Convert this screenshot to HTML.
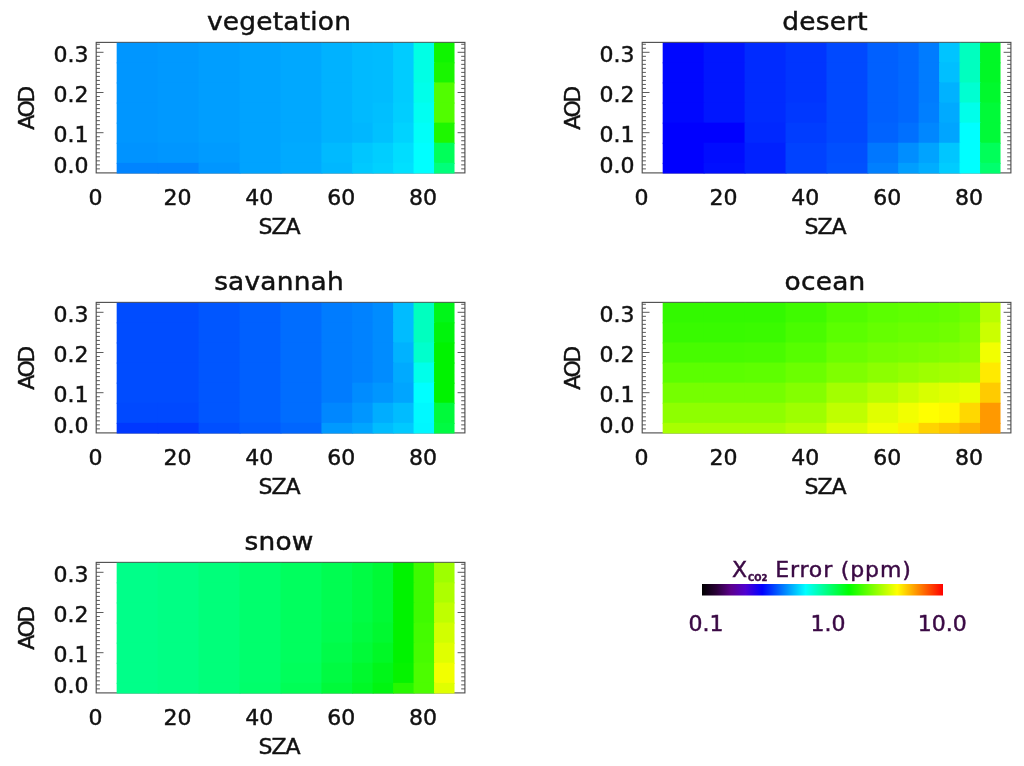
<!DOCTYPE html>
<html><head><meta charset="utf-8"><title>XCO2 error</title>
<style>
html,body{margin:0;padding:0;background:#fff;}
body{width:1024px;height:766px;overflow:hidden;}
svg{display:block;}

text{font-family:"DejaVu Sans","Liberation Sans",sans-serif;fill:#111;stroke:#111;stroke-width:0.45px;}
.title{font-size:24px;letter-spacing:0.2px;}
.lab{font-size:22px;}
.axl{font-size:22px;letter-spacing:-1px;}
.aod{letter-spacing:-2.4px;}
.frame{fill:#fff;stroke:#505050;stroke-width:1.15;}
.tick{stroke:#4a4a4a;stroke-width:0.9;fill:none;}
.cb text{fill:#3b0a45;stroke:#3b0a45;}

</style></head><body>
<svg width="1024" height="766" viewBox="0 0 1024 766">
<rect width="1024" height="766" fill="#fff"/>
<defs><linearGradient id="cbg" x1="0" x2="1" y1="0" y2="0">
<stop offset="0" stop-color="#000"/>
<stop offset="0.06" stop-color="#2a0038"/>
<stop offset="0.12" stop-color="#5c008c"/>
<stop offset="0.18" stop-color="#5000d0"/>
<stop offset="0.25" stop-color="#0000ff"/>
<stop offset="0.43" stop-color="#00ffff"/>
<stop offset="0.61" stop-color="#00ff00"/>
<stop offset="0.81" stop-color="#ffff00"/>
<stop offset="1" stop-color="#ff0000"/>
</linearGradient></defs>
<g>
<g class="panel">
<rect class="frame" x="96.20" y="42.40" width="368.70" height="130.50"/>
<path class="tick" d="M96.20 168.88h3.70M464.90 168.88h-3.70M96.20 164.86h3.70M464.90 164.86h-3.70M96.20 160.84h3.70M464.90 160.84h-3.70M96.20 156.82h3.70M464.90 156.82h-3.70M96.20 152.80h3.70M464.90 152.80h-3.70M96.20 148.78h3.70M464.90 148.78h-3.70M96.20 144.76h3.70M464.90 144.76h-3.70M96.20 140.74h3.70M464.90 140.74h-3.70M96.20 136.72h3.70M464.90 136.72h-3.70M96.20 132.70h7.30M464.90 132.70h-7.30M96.20 128.68h3.70M464.90 128.68h-3.70M96.20 124.66h3.70M464.90 124.66h-3.70M96.20 120.64h3.70M464.90 120.64h-3.70M96.20 116.62h3.70M464.90 116.62h-3.70M96.20 112.60h3.70M464.90 112.60h-3.70M96.20 108.58h3.70M464.90 108.58h-3.70M96.20 104.56h3.70M464.90 104.56h-3.70M96.20 100.54h3.70M464.90 100.54h-3.70M96.20 96.52h3.70M464.90 96.52h-3.70M96.20 92.50h7.30M464.90 92.50h-7.30M96.20 88.48h3.70M464.90 88.48h-3.70M96.20 84.46h3.70M464.90 84.46h-3.70M96.20 80.44h3.70M464.90 80.44h-3.70M96.20 76.42h3.70M464.90 76.42h-3.70M96.20 72.40h3.70M464.90 72.40h-3.70M96.20 68.38h3.70M464.90 68.38h-3.70M96.20 64.36h3.70M464.90 64.36h-3.70M96.20 60.34h3.70M464.90 60.34h-3.70M96.20 56.32h3.70M464.90 56.32h-3.70M96.20 52.30h7.30M464.90 52.30h-7.30M96.20 48.28h3.70M464.90 48.28h-3.70M96.20 44.26h3.70M464.90 44.26h-3.70"/>
<g class="heat">
<rect x="116.67" y="42.80" width="41.95" height="20.55" fill="#0096ff"/><rect x="157.62" y="42.80" width="41.95" height="20.55" fill="#0099ff"/><rect x="198.57" y="42.80" width="41.95" height="20.55" fill="#009eff"/><rect x="239.52" y="42.80" width="41.95" height="20.55" fill="#00a3ff"/><rect x="280.47" y="42.80" width="41.95" height="20.55" fill="#00a8ff"/><rect x="321.43" y="42.80" width="31.71" height="20.55" fill="#00b2ff"/><rect x="352.14" y="42.80" width="21.47" height="20.55" fill="#00baff"/><rect x="372.61" y="42.80" width="21.48" height="20.55" fill="#00bcff"/><rect x="393.09" y="42.80" width="21.47" height="20.55" fill="#00ccff"/><rect x="413.56" y="42.80" width="21.48" height="20.55" fill="#00ffe5"/><rect x="434.04" y="42.80" width="20.48" height="20.55" fill="#0ff500"/>
<rect x="116.67" y="62.35" width="41.95" height="21.10" fill="#0096ff"/><rect x="157.62" y="62.35" width="41.95" height="21.10" fill="#0099ff"/><rect x="198.57" y="62.35" width="41.95" height="21.10" fill="#009eff"/><rect x="239.52" y="62.35" width="41.95" height="21.10" fill="#00a3ff"/><rect x="280.47" y="62.35" width="41.95" height="21.10" fill="#00a8ff"/><rect x="321.43" y="62.35" width="31.71" height="21.10" fill="#00b2ff"/><rect x="352.14" y="62.35" width="21.47" height="21.10" fill="#00baff"/><rect x="372.61" y="62.35" width="21.48" height="21.10" fill="#00bcff"/><rect x="393.09" y="62.35" width="21.47" height="21.10" fill="#00ccff"/><rect x="413.56" y="62.35" width="21.48" height="21.10" fill="#00ffe5"/><rect x="434.04" y="62.35" width="20.48" height="21.10" fill="#19f600"/>
<rect x="116.67" y="82.45" width="41.95" height="21.10" fill="#0096ff"/><rect x="157.62" y="82.45" width="41.95" height="21.10" fill="#0099ff"/><rect x="198.57" y="82.45" width="41.95" height="21.10" fill="#009eff"/><rect x="239.52" y="82.45" width="41.95" height="21.10" fill="#00a3ff"/><rect x="280.47" y="82.45" width="41.95" height="21.10" fill="#00a8ff"/><rect x="321.43" y="82.45" width="31.71" height="21.10" fill="#00b2ff"/><rect x="352.14" y="82.45" width="21.47" height="21.10" fill="#00baff"/><rect x="372.61" y="82.45" width="21.48" height="21.10" fill="#00bcff"/><rect x="393.09" y="82.45" width="21.47" height="21.10" fill="#00ccff"/><rect x="413.56" y="82.45" width="21.48" height="21.10" fill="#00ffea"/><rect x="434.04" y="82.45" width="20.48" height="21.10" fill="#51fd00"/>
<rect x="116.67" y="102.55" width="41.95" height="21.10" fill="#0096ff"/><rect x="157.62" y="102.55" width="41.95" height="21.10" fill="#0099ff"/><rect x="198.57" y="102.55" width="41.95" height="21.10" fill="#009eff"/><rect x="239.52" y="102.55" width="41.95" height="21.10" fill="#00a3ff"/><rect x="280.47" y="102.55" width="41.95" height="21.10" fill="#00a8ff"/><rect x="321.43" y="102.55" width="31.71" height="21.10" fill="#00b2ff"/><rect x="352.14" y="102.55" width="21.47" height="21.10" fill="#00baff"/><rect x="372.61" y="102.55" width="21.48" height="21.10" fill="#00bfff"/><rect x="393.09" y="102.55" width="21.47" height="21.10" fill="#00ceff"/><rect x="413.56" y="102.55" width="21.48" height="21.10" fill="#00fff2"/><rect x="434.04" y="102.55" width="20.48" height="21.10" fill="#51fd00"/>
<rect x="116.67" y="122.65" width="41.95" height="21.10" fill="#0096ff"/><rect x="157.62" y="122.65" width="41.95" height="21.10" fill="#0099ff"/><rect x="198.57" y="122.65" width="41.95" height="21.10" fill="#009eff"/><rect x="239.52" y="122.65" width="41.95" height="21.10" fill="#00a3ff"/><rect x="280.47" y="122.65" width="41.95" height="21.10" fill="#00a8ff"/><rect x="321.43" y="122.65" width="31.71" height="21.10" fill="#00b2ff"/><rect x="352.14" y="122.65" width="21.47" height="21.10" fill="#00b7ff"/><rect x="372.61" y="122.65" width="21.48" height="21.10" fill="#00c1ff"/><rect x="393.09" y="122.65" width="21.47" height="21.10" fill="#00d3ff"/><rect x="413.56" y="122.65" width="21.48" height="21.10" fill="#00fff9"/><rect x="434.04" y="122.65" width="20.48" height="21.10" fill="#1ef700"/>
<rect x="116.67" y="142.75" width="41.95" height="21.10" fill="#0093ff"/><rect x="157.62" y="142.75" width="41.95" height="21.10" fill="#0096ff"/><rect x="198.57" y="142.75" width="41.95" height="21.10" fill="#009bff"/><rect x="239.52" y="142.75" width="41.95" height="21.10" fill="#00a3ff"/><rect x="280.47" y="142.75" width="41.95" height="21.10" fill="#00aaff"/><rect x="321.43" y="142.75" width="31.71" height="21.10" fill="#00baff"/><rect x="352.14" y="142.75" width="21.47" height="21.10" fill="#00c6ff"/><rect x="372.61" y="142.75" width="21.48" height="21.10" fill="#00ceff"/><rect x="393.09" y="142.75" width="21.47" height="21.10" fill="#00ddff"/><rect x="413.56" y="142.75" width="21.48" height="21.10" fill="#00ffff"/><rect x="434.04" y="142.75" width="20.48" height="21.10" fill="#00ff59"/>
<rect x="116.67" y="162.85" width="41.95" height="10.65" fill="#0084ff"/><rect x="157.62" y="162.85" width="41.95" height="10.65" fill="#0084ff"/><rect x="198.57" y="162.85" width="41.95" height="10.65" fill="#0096ff"/><rect x="239.52" y="162.85" width="41.95" height="10.65" fill="#00a3ff"/><rect x="280.47" y="162.85" width="41.95" height="10.65" fill="#00aaff"/><rect x="321.43" y="162.85" width="31.71" height="10.65" fill="#00b7ff"/><rect x="352.14" y="162.85" width="21.47" height="10.65" fill="#00c9ff"/><rect x="372.61" y="162.85" width="21.48" height="10.65" fill="#00d1ff"/><rect x="393.09" y="162.85" width="21.47" height="10.65" fill="#00e0ff"/><rect x="413.56" y="162.85" width="21.48" height="10.65" fill="#00ffff"/><rect x="434.04" y="162.85" width="20.48" height="10.65" fill="#00ff7a"/>
</g>
<text class="title" transform="translate(279.05 29.70) scale(1.100 1)" text-anchor="middle">vegetation</text>
<text class="lab" x="88.60" y="61.90" text-anchor="end">0.3</text>
<text class="lab" x="88.60" y="102.10" text-anchor="end">0.2</text>
<text class="lab" x="88.60" y="142.30" text-anchor="end">0.1</text>
<text class="lab" x="88.60" y="172.90" text-anchor="end">0.0</text>
<text class="lab" x="95.50" y="205.40" text-anchor="middle">0</text>
<text class="lab" x="177.40" y="205.40" text-anchor="middle">20</text>
<text class="lab" x="259.30" y="205.40" text-anchor="middle">40</text>
<text class="lab" x="341.20" y="205.40" text-anchor="middle">60</text>
<text class="lab" x="423.10" y="205.40" text-anchor="middle">80</text>
<text class="axl" x="279.05" y="233.90" text-anchor="middle">SZA</text>
<text class="axl aod" transform="translate(33.90 108.95) rotate(-90)" text-anchor="middle">AOD</text>
</g>
<g class="panel">
<rect class="frame" x="642.20" y="42.40" width="368.70" height="130.50"/>
<path class="tick" d="M642.20 168.88h3.70M1010.90 168.88h-3.70M642.20 164.86h3.70M1010.90 164.86h-3.70M642.20 160.84h3.70M1010.90 160.84h-3.70M642.20 156.82h3.70M1010.90 156.82h-3.70M642.20 152.80h3.70M1010.90 152.80h-3.70M642.20 148.78h3.70M1010.90 148.78h-3.70M642.20 144.76h3.70M1010.90 144.76h-3.70M642.20 140.74h3.70M1010.90 140.74h-3.70M642.20 136.72h3.70M1010.90 136.72h-3.70M642.20 132.70h7.30M1010.90 132.70h-7.30M642.20 128.68h3.70M1010.90 128.68h-3.70M642.20 124.66h3.70M1010.90 124.66h-3.70M642.20 120.64h3.70M1010.90 120.64h-3.70M642.20 116.62h3.70M1010.90 116.62h-3.70M642.20 112.60h3.70M1010.90 112.60h-3.70M642.20 108.58h3.70M1010.90 108.58h-3.70M642.20 104.56h3.70M1010.90 104.56h-3.70M642.20 100.54h3.70M1010.90 100.54h-3.70M642.20 96.52h3.70M1010.90 96.52h-3.70M642.20 92.50h7.30M1010.90 92.50h-7.30M642.20 88.48h3.70M1010.90 88.48h-3.70M642.20 84.46h3.70M1010.90 84.46h-3.70M642.20 80.44h3.70M1010.90 80.44h-3.70M642.20 76.42h3.70M1010.90 76.42h-3.70M642.20 72.40h3.70M1010.90 72.40h-3.70M642.20 68.38h3.70M1010.90 68.38h-3.70M642.20 64.36h3.70M1010.90 64.36h-3.70M642.20 60.34h3.70M1010.90 60.34h-3.70M642.20 56.32h3.70M1010.90 56.32h-3.70M642.20 52.30h7.30M1010.90 52.30h-7.30M642.20 48.28h3.70M1010.90 48.28h-3.70M642.20 44.26h3.70M1010.90 44.26h-3.70"/>
<g class="heat">
<rect x="662.68" y="42.80" width="41.95" height="20.55" fill="#0007ff"/><rect x="703.62" y="42.80" width="41.95" height="20.55" fill="#0016ff"/><rect x="744.58" y="42.80" width="41.95" height="20.55" fill="#002bff"/><rect x="785.53" y="42.80" width="41.95" height="20.55" fill="#0035ff"/><rect x="826.48" y="42.80" width="41.95" height="20.55" fill="#0049ff"/><rect x="867.43" y="42.80" width="31.71" height="20.55" fill="#0060ff"/><rect x="898.14" y="42.80" width="21.47" height="20.55" fill="#0068ff"/><rect x="918.61" y="42.80" width="21.48" height="20.55" fill="#007cff"/><rect x="939.09" y="42.80" width="21.47" height="20.55" fill="#00c4ff"/><rect x="959.56" y="42.80" width="21.48" height="20.55" fill="#00ffbf"/><rect x="980.04" y="42.80" width="20.48" height="20.55" fill="#00f826"/>
<rect x="662.68" y="62.35" width="41.95" height="21.10" fill="#0007ff"/><rect x="703.62" y="62.35" width="41.95" height="21.10" fill="#0016ff"/><rect x="744.58" y="62.35" width="41.95" height="21.10" fill="#002bff"/><rect x="785.53" y="62.35" width="41.95" height="21.10" fill="#0035ff"/><rect x="826.48" y="62.35" width="41.95" height="21.10" fill="#0049ff"/><rect x="867.43" y="62.35" width="31.71" height="21.10" fill="#0060ff"/><rect x="898.14" y="62.35" width="21.47" height="21.10" fill="#0068ff"/><rect x="918.61" y="62.35" width="21.48" height="21.10" fill="#007cff"/><rect x="939.09" y="62.35" width="21.47" height="21.10" fill="#00bfff"/><rect x="959.56" y="62.35" width="21.48" height="21.10" fill="#00ffbf"/><rect x="980.04" y="62.35" width="20.48" height="21.10" fill="#00f826"/>
<rect x="662.68" y="82.45" width="41.95" height="21.10" fill="#0007ff"/><rect x="703.62" y="82.45" width="41.95" height="21.10" fill="#0016ff"/><rect x="744.58" y="82.45" width="41.95" height="21.10" fill="#002bff"/><rect x="785.53" y="82.45" width="41.95" height="21.10" fill="#0035ff"/><rect x="826.48" y="82.45" width="41.95" height="21.10" fill="#0049ff"/><rect x="867.43" y="82.45" width="31.71" height="21.10" fill="#0060ff"/><rect x="898.14" y="82.45" width="21.47" height="21.10" fill="#0068ff"/><rect x="918.61" y="82.45" width="21.48" height="21.10" fill="#007cff"/><rect x="939.09" y="82.45" width="21.47" height="21.10" fill="#00b2ff"/><rect x="959.56" y="82.45" width="21.48" height="21.10" fill="#00ffd1"/><rect x="980.04" y="82.45" width="20.48" height="21.10" fill="#00f92d"/>
<rect x="662.68" y="102.55" width="41.95" height="21.10" fill="#0007ff"/><rect x="703.62" y="102.55" width="41.95" height="21.10" fill="#0016ff"/><rect x="744.58" y="102.55" width="41.95" height="21.10" fill="#002bff"/><rect x="785.53" y="102.55" width="41.95" height="21.10" fill="#0038ff"/><rect x="826.48" y="102.55" width="41.95" height="21.10" fill="#0049ff"/><rect x="867.43" y="102.55" width="31.71" height="21.10" fill="#0060ff"/><rect x="898.14" y="102.55" width="21.47" height="21.10" fill="#0068ff"/><rect x="918.61" y="102.55" width="21.48" height="21.10" fill="#007fff"/><rect x="939.09" y="102.55" width="21.47" height="21.10" fill="#00aaff"/><rect x="959.56" y="102.55" width="21.48" height="21.10" fill="#00ffea"/><rect x="980.04" y="102.55" width="20.48" height="21.10" fill="#00fa38"/>
<rect x="662.68" y="122.65" width="41.95" height="21.10" fill="#0000ff"/><rect x="703.62" y="122.65" width="41.95" height="21.10" fill="#0000ff"/><rect x="744.58" y="122.65" width="41.95" height="21.10" fill="#0028ff"/><rect x="785.53" y="122.65" width="41.95" height="21.10" fill="#003dff"/><rect x="826.48" y="122.65" width="41.95" height="21.10" fill="#0049ff"/><rect x="867.43" y="122.65" width="31.71" height="21.10" fill="#0063ff"/><rect x="898.14" y="122.65" width="21.47" height="21.10" fill="#0070ff"/><rect x="918.61" y="122.65" width="21.48" height="21.10" fill="#0087ff"/><rect x="939.09" y="122.65" width="21.47" height="21.10" fill="#00a5ff"/><rect x="959.56" y="122.65" width="21.48" height="21.10" fill="#00ffff"/><rect x="980.04" y="122.65" width="20.48" height="21.10" fill="#00fa38"/>
<rect x="662.68" y="142.75" width="41.95" height="21.10" fill="#0000ff"/><rect x="703.62" y="142.75" width="41.95" height="21.10" fill="#000cff"/><rect x="744.58" y="142.75" width="41.95" height="21.10" fill="#0021ff"/><rect x="785.53" y="142.75" width="41.95" height="21.10" fill="#0042ff"/><rect x="826.48" y="142.75" width="41.95" height="21.10" fill="#004fff"/><rect x="867.43" y="142.75" width="31.71" height="21.10" fill="#0077ff"/><rect x="898.14" y="142.75" width="21.47" height="21.10" fill="#008eff"/><rect x="918.61" y="142.75" width="21.48" height="21.10" fill="#00a3ff"/><rect x="939.09" y="142.75" width="21.47" height="21.10" fill="#00c6ff"/><rect x="959.56" y="142.75" width="21.48" height="21.10" fill="#00ffff"/><rect x="980.04" y="142.75" width="20.48" height="21.10" fill="#00ff59"/>
<rect x="662.68" y="162.85" width="41.95" height="10.65" fill="#0000ff"/><rect x="703.62" y="162.85" width="41.95" height="10.65" fill="#000fff"/><rect x="744.58" y="162.85" width="41.95" height="10.65" fill="#0021ff"/><rect x="785.53" y="162.85" width="41.95" height="10.65" fill="#0042ff"/><rect x="826.48" y="162.85" width="41.95" height="10.65" fill="#0051ff"/><rect x="867.43" y="162.85" width="31.71" height="10.65" fill="#007fff"/><rect x="898.14" y="162.85" width="21.47" height="10.65" fill="#009eff"/><rect x="918.61" y="162.85" width="21.48" height="10.65" fill="#00adff"/><rect x="939.09" y="162.85" width="21.47" height="10.65" fill="#00ccff"/><rect x="959.56" y="162.85" width="21.48" height="10.65" fill="#00ffff"/><rect x="980.04" y="162.85" width="20.48" height="10.65" fill="#00ff6d"/>
</g>
<text class="title" transform="translate(825.05 29.70) scale(1.100 1)" text-anchor="middle">desert</text>
<text class="lab" x="634.60" y="61.90" text-anchor="end">0.3</text>
<text class="lab" x="634.60" y="102.10" text-anchor="end">0.2</text>
<text class="lab" x="634.60" y="142.30" text-anchor="end">0.1</text>
<text class="lab" x="634.60" y="172.90" text-anchor="end">0.0</text>
<text class="lab" x="641.50" y="205.40" text-anchor="middle">0</text>
<text class="lab" x="723.40" y="205.40" text-anchor="middle">20</text>
<text class="lab" x="805.30" y="205.40" text-anchor="middle">40</text>
<text class="lab" x="887.20" y="205.40" text-anchor="middle">60</text>
<text class="lab" x="969.10" y="205.40" text-anchor="middle">80</text>
<text class="axl" x="825.05" y="233.90" text-anchor="middle">SZA</text>
<text class="axl aod" transform="translate(579.90 108.95) rotate(-90)" text-anchor="middle">AOD</text>
</g>
<g class="panel">
<rect class="frame" x="96.20" y="302.40" width="368.70" height="130.50"/>
<path class="tick" d="M96.20 428.88h3.70M464.90 428.88h-3.70M96.20 424.86h3.70M464.90 424.86h-3.70M96.20 420.84h3.70M464.90 420.84h-3.70M96.20 416.82h3.70M464.90 416.82h-3.70M96.20 412.80h3.70M464.90 412.80h-3.70M96.20 408.78h3.70M464.90 408.78h-3.70M96.20 404.76h3.70M464.90 404.76h-3.70M96.20 400.74h3.70M464.90 400.74h-3.70M96.20 396.72h3.70M464.90 396.72h-3.70M96.20 392.70h7.30M464.90 392.70h-7.30M96.20 388.68h3.70M464.90 388.68h-3.70M96.20 384.66h3.70M464.90 384.66h-3.70M96.20 380.64h3.70M464.90 380.64h-3.70M96.20 376.62h3.70M464.90 376.62h-3.70M96.20 372.60h3.70M464.90 372.60h-3.70M96.20 368.58h3.70M464.90 368.58h-3.70M96.20 364.56h3.70M464.90 364.56h-3.70M96.20 360.54h3.70M464.90 360.54h-3.70M96.20 356.52h3.70M464.90 356.52h-3.70M96.20 352.50h7.30M464.90 352.50h-7.30M96.20 348.48h3.70M464.90 348.48h-3.70M96.20 344.46h3.70M464.90 344.46h-3.70M96.20 340.44h3.70M464.90 340.44h-3.70M96.20 336.42h3.70M464.90 336.42h-3.70M96.20 332.40h3.70M464.90 332.40h-3.70M96.20 328.38h3.70M464.90 328.38h-3.70M96.20 324.36h3.70M464.90 324.36h-3.70M96.20 320.34h3.70M464.90 320.34h-3.70M96.20 316.32h3.70M464.90 316.32h-3.70M96.20 312.30h7.30M464.90 312.30h-7.30M96.20 308.28h3.70M464.90 308.28h-3.70M96.20 304.26h3.70M464.90 304.26h-3.70"/>
<g class="heat">
<rect x="116.67" y="302.80" width="41.95" height="20.55" fill="#004cff"/><rect x="157.62" y="302.80" width="41.95" height="20.55" fill="#004cff"/><rect x="198.57" y="302.80" width="41.95" height="20.55" fill="#0056ff"/><rect x="239.52" y="302.80" width="41.95" height="20.55" fill="#0060ff"/><rect x="280.47" y="302.80" width="41.95" height="20.55" fill="#006dff"/><rect x="321.43" y="302.80" width="31.71" height="20.55" fill="#007cff"/><rect x="352.14" y="302.80" width="21.47" height="20.55" fill="#0082ff"/><rect x="372.61" y="302.80" width="21.48" height="20.55" fill="#008cff"/><rect x="393.09" y="302.80" width="21.47" height="20.55" fill="#00bcff"/><rect x="413.56" y="302.80" width="21.48" height="20.55" fill="#00ffbf"/><rect x="434.04" y="302.80" width="20.48" height="20.55" fill="#00f619"/>
<rect x="116.67" y="322.35" width="41.95" height="21.10" fill="#004cff"/><rect x="157.62" y="322.35" width="41.95" height="21.10" fill="#004cff"/><rect x="198.57" y="322.35" width="41.95" height="21.10" fill="#0056ff"/><rect x="239.52" y="322.35" width="41.95" height="21.10" fill="#0060ff"/><rect x="280.47" y="322.35" width="41.95" height="21.10" fill="#006dff"/><rect x="321.43" y="322.35" width="31.71" height="21.10" fill="#007cff"/><rect x="352.14" y="322.35" width="21.47" height="21.10" fill="#0082ff"/><rect x="372.61" y="322.35" width="21.48" height="21.10" fill="#008cff"/><rect x="393.09" y="322.35" width="21.47" height="21.10" fill="#00bcff"/><rect x="413.56" y="322.35" width="21.48" height="21.10" fill="#00ffbf"/><rect x="434.04" y="322.35" width="20.48" height="21.10" fill="#00f40c"/>
<rect x="116.67" y="342.45" width="41.95" height="21.10" fill="#004cff"/><rect x="157.62" y="342.45" width="41.95" height="21.10" fill="#004cff"/><rect x="198.57" y="342.45" width="41.95" height="21.10" fill="#0056ff"/><rect x="239.52" y="342.45" width="41.95" height="21.10" fill="#0060ff"/><rect x="280.47" y="342.45" width="41.95" height="21.10" fill="#006dff"/><rect x="321.43" y="342.45" width="31.71" height="21.10" fill="#007cff"/><rect x="352.14" y="342.45" width="21.47" height="21.10" fill="#0082ff"/><rect x="372.61" y="342.45" width="21.48" height="21.10" fill="#008cff"/><rect x="393.09" y="342.45" width="21.47" height="21.10" fill="#00b2ff"/><rect x="413.56" y="342.45" width="21.48" height="21.10" fill="#00ffcc"/><rect x="434.04" y="342.45" width="20.48" height="21.10" fill="#00f300"/>
<rect x="116.67" y="362.55" width="41.95" height="21.10" fill="#004cff"/><rect x="157.62" y="362.55" width="41.95" height="21.10" fill="#004cff"/><rect x="198.57" y="362.55" width="41.95" height="21.10" fill="#0056ff"/><rect x="239.52" y="362.55" width="41.95" height="21.10" fill="#0060ff"/><rect x="280.47" y="362.55" width="41.95" height="21.10" fill="#006dff"/><rect x="321.43" y="362.55" width="31.71" height="21.10" fill="#007cff"/><rect x="352.14" y="362.55" width="21.47" height="21.10" fill="#0082ff"/><rect x="372.61" y="362.55" width="21.48" height="21.10" fill="#008cff"/><rect x="393.09" y="362.55" width="21.47" height="21.10" fill="#00aaff"/><rect x="413.56" y="362.55" width="21.48" height="21.10" fill="#00ffea"/><rect x="434.04" y="362.55" width="20.48" height="21.10" fill="#00f300"/>
<rect x="116.67" y="382.65" width="41.95" height="21.10" fill="#004cff"/><rect x="157.62" y="382.65" width="41.95" height="21.10" fill="#004cff"/><rect x="198.57" y="382.65" width="41.95" height="21.10" fill="#0056ff"/><rect x="239.52" y="382.65" width="41.95" height="21.10" fill="#0060ff"/><rect x="280.47" y="382.65" width="41.95" height="21.10" fill="#006dff"/><rect x="321.43" y="382.65" width="31.71" height="21.10" fill="#007cff"/><rect x="352.14" y="382.65" width="21.47" height="21.10" fill="#008cff"/><rect x="372.61" y="382.65" width="21.48" height="21.10" fill="#0096ff"/><rect x="393.09" y="382.65" width="21.47" height="21.10" fill="#00a5ff"/><rect x="413.56" y="382.65" width="21.48" height="21.10" fill="#00ffff"/><rect x="434.04" y="382.65" width="20.48" height="21.10" fill="#00f300"/>
<rect x="116.67" y="402.75" width="41.95" height="21.10" fill="#0049ff"/><rect x="157.62" y="402.75" width="41.95" height="21.10" fill="#0049ff"/><rect x="198.57" y="402.75" width="41.95" height="21.10" fill="#0056ff"/><rect x="239.52" y="402.75" width="41.95" height="21.10" fill="#0060ff"/><rect x="280.47" y="402.75" width="41.95" height="21.10" fill="#006dff"/><rect x="321.43" y="402.75" width="31.71" height="21.10" fill="#0087ff"/><rect x="352.14" y="402.75" width="21.47" height="21.10" fill="#0096ff"/><rect x="372.61" y="402.75" width="21.48" height="21.10" fill="#00adff"/><rect x="393.09" y="402.75" width="21.47" height="21.10" fill="#00bcff"/><rect x="413.56" y="402.75" width="21.48" height="21.10" fill="#00f9ff"/><rect x="434.04" y="402.75" width="20.48" height="21.10" fill="#00fa3a"/>
<rect x="116.67" y="422.85" width="41.95" height="10.65" fill="#0038ff"/><rect x="157.62" y="422.85" width="41.95" height="10.65" fill="#0038ff"/><rect x="198.57" y="422.85" width="41.95" height="10.65" fill="#004fff"/><rect x="239.52" y="422.85" width="41.95" height="10.65" fill="#005bff"/><rect x="280.47" y="422.85" width="41.95" height="10.65" fill="#0066ff"/><rect x="321.43" y="422.85" width="31.71" height="10.65" fill="#0099ff"/><rect x="352.14" y="422.85" width="21.47" height="10.65" fill="#00a5ff"/><rect x="372.61" y="422.85" width="21.48" height="10.65" fill="#00bcff"/><rect x="393.09" y="422.85" width="21.47" height="10.65" fill="#00c9ff"/><rect x="413.56" y="422.85" width="21.48" height="10.65" fill="#00f7ff"/><rect x="434.04" y="422.85" width="20.48" height="10.65" fill="#00fb42"/>
</g>
<text class="title" transform="translate(279.05 289.70) scale(1.100 1)" text-anchor="middle">savannah</text>
<text class="lab" x="88.60" y="321.90" text-anchor="end">0.3</text>
<text class="lab" x="88.60" y="362.10" text-anchor="end">0.2</text>
<text class="lab" x="88.60" y="402.30" text-anchor="end">0.1</text>
<text class="lab" x="88.60" y="432.90" text-anchor="end">0.0</text>
<text class="lab" x="95.50" y="465.40" text-anchor="middle">0</text>
<text class="lab" x="177.40" y="465.40" text-anchor="middle">20</text>
<text class="lab" x="259.30" y="465.40" text-anchor="middle">40</text>
<text class="lab" x="341.20" y="465.40" text-anchor="middle">60</text>
<text class="lab" x="423.10" y="465.40" text-anchor="middle">80</text>
<text class="axl" x="279.05" y="493.90" text-anchor="middle">SZA</text>
<text class="axl aod" transform="translate(33.90 368.95) rotate(-90)" text-anchor="middle">AOD</text>
</g>
<g class="panel">
<rect class="frame" x="642.20" y="302.40" width="368.70" height="130.50"/>
<path class="tick" d="M642.20 428.88h3.70M1010.90 428.88h-3.70M642.20 424.86h3.70M1010.90 424.86h-3.70M642.20 420.84h3.70M1010.90 420.84h-3.70M642.20 416.82h3.70M1010.90 416.82h-3.70M642.20 412.80h3.70M1010.90 412.80h-3.70M642.20 408.78h3.70M1010.90 408.78h-3.70M642.20 404.76h3.70M1010.90 404.76h-3.70M642.20 400.74h3.70M1010.90 400.74h-3.70M642.20 396.72h3.70M1010.90 396.72h-3.70M642.20 392.70h7.30M1010.90 392.70h-7.30M642.20 388.68h3.70M1010.90 388.68h-3.70M642.20 384.66h3.70M1010.90 384.66h-3.70M642.20 380.64h3.70M1010.90 380.64h-3.70M642.20 376.62h3.70M1010.90 376.62h-3.70M642.20 372.60h3.70M1010.90 372.60h-3.70M642.20 368.58h3.70M1010.90 368.58h-3.70M642.20 364.56h3.70M1010.90 364.56h-3.70M642.20 360.54h3.70M1010.90 360.54h-3.70M642.20 356.52h3.70M1010.90 356.52h-3.70M642.20 352.50h7.30M1010.90 352.50h-7.30M642.20 348.48h3.70M1010.90 348.48h-3.70M642.20 344.46h3.70M1010.90 344.46h-3.70M642.20 340.44h3.70M1010.90 340.44h-3.70M642.20 336.42h3.70M1010.90 336.42h-3.70M642.20 332.40h3.70M1010.90 332.40h-3.70M642.20 328.38h3.70M1010.90 328.38h-3.70M642.20 324.36h3.70M1010.90 324.36h-3.70M642.20 320.34h3.70M1010.90 320.34h-3.70M642.20 316.32h3.70M1010.90 316.32h-3.70M642.20 312.30h7.30M1010.90 312.30h-7.30M642.20 308.28h3.70M1010.90 308.28h-3.70M642.20 304.26h3.70M1010.90 304.26h-3.70"/>
<g class="heat">
<rect x="662.68" y="302.80" width="41.95" height="20.55" fill="#33f900"/><rect x="703.62" y="302.80" width="41.95" height="20.55" fill="#33f900"/><rect x="744.58" y="302.80" width="41.95" height="20.55" fill="#33f900"/><rect x="785.53" y="302.80" width="41.95" height="20.55" fill="#3ffb00"/><rect x="826.48" y="302.80" width="41.95" height="20.55" fill="#51fd00"/><rect x="867.43" y="302.80" width="31.71" height="20.55" fill="#5bff00"/><rect x="898.14" y="302.80" width="21.47" height="20.55" fill="#60ff00"/><rect x="918.61" y="302.80" width="21.48" height="20.55" fill="#60ff00"/><rect x="939.09" y="302.80" width="21.47" height="20.55" fill="#65ff00"/><rect x="959.56" y="302.80" width="21.48" height="20.55" fill="#72ff00"/><rect x="980.04" y="302.80" width="20.48" height="20.55" fill="#b7ff00"/>
<rect x="662.68" y="322.35" width="41.95" height="21.10" fill="#38fa00"/><rect x="703.62" y="322.35" width="41.95" height="21.10" fill="#38fa00"/><rect x="744.58" y="322.35" width="41.95" height="21.10" fill="#3afa00"/><rect x="785.53" y="322.35" width="41.95" height="21.10" fill="#49fc00"/><rect x="826.48" y="322.35" width="41.95" height="21.10" fill="#5bff00"/><rect x="867.43" y="322.35" width="31.71" height="21.10" fill="#65ff00"/><rect x="898.14" y="322.35" width="21.47" height="21.10" fill="#6bff00"/><rect x="918.61" y="322.35" width="21.48" height="21.10" fill="#6bff00"/><rect x="939.09" y="322.35" width="21.47" height="21.10" fill="#70ff00"/><rect x="959.56" y="322.35" width="21.48" height="21.10" fill="#7fff00"/><rect x="980.04" y="322.35" width="20.48" height="21.10" fill="#cbff00"/>
<rect x="662.68" y="342.45" width="41.95" height="21.10" fill="#47fc00"/><rect x="703.62" y="342.45" width="41.95" height="21.10" fill="#47fc00"/><rect x="744.58" y="342.45" width="41.95" height="21.10" fill="#49fc00"/><rect x="785.53" y="342.45" width="41.95" height="21.10" fill="#56fe00"/><rect x="826.48" y="342.45" width="41.95" height="21.10" fill="#6bff00"/><rect x="867.43" y="342.45" width="31.71" height="21.10" fill="#75ff00"/><rect x="898.14" y="342.45" width="21.47" height="21.10" fill="#7aff00"/><rect x="918.61" y="342.45" width="21.48" height="21.10" fill="#7fff00"/><rect x="939.09" y="342.45" width="21.47" height="21.10" fill="#84ff00"/><rect x="959.56" y="342.45" width="21.48" height="21.10" fill="#8cff00"/><rect x="980.04" y="342.45" width="20.48" height="21.10" fill="#f2ff00"/>
<rect x="662.68" y="362.55" width="41.95" height="21.10" fill="#5bff00"/><rect x="703.62" y="362.55" width="41.95" height="21.10" fill="#5bff00"/><rect x="744.58" y="362.55" width="41.95" height="21.10" fill="#5eff00"/><rect x="785.53" y="362.55" width="41.95" height="21.10" fill="#6bff00"/><rect x="826.48" y="362.55" width="41.95" height="21.10" fill="#7fff00"/><rect x="867.43" y="362.55" width="31.71" height="21.10" fill="#8cff00"/><rect x="898.14" y="362.55" width="21.47" height="21.10" fill="#96ff00"/><rect x="918.61" y="362.55" width="21.48" height="21.10" fill="#9eff00"/><rect x="939.09" y="362.55" width="21.47" height="21.10" fill="#a3ff00"/><rect x="959.56" y="362.55" width="21.48" height="21.10" fill="#a8ff00"/><rect x="980.04" y="362.55" width="20.48" height="21.10" fill="#ffea00"/>
<rect x="662.68" y="382.65" width="41.95" height="21.10" fill="#75ff00"/><rect x="703.62" y="382.65" width="41.95" height="21.10" fill="#75ff00"/><rect x="744.58" y="382.65" width="41.95" height="21.10" fill="#75ff00"/><rect x="785.53" y="382.65" width="41.95" height="21.10" fill="#84ff00"/><rect x="826.48" y="382.65" width="41.95" height="21.10" fill="#a3ff00"/><rect x="867.43" y="382.65" width="31.71" height="21.10" fill="#b7ff00"/><rect x="898.14" y="382.65" width="21.47" height="21.10" fill="#c9ff00"/><rect x="918.61" y="382.65" width="21.48" height="21.10" fill="#d8ff00"/><rect x="939.09" y="382.65" width="21.47" height="21.10" fill="#e0ff00"/><rect x="959.56" y="382.65" width="21.48" height="21.10" fill="#eaff00"/><rect x="980.04" y="382.65" width="20.48" height="21.10" fill="#ffcb00"/>
<rect x="662.68" y="402.75" width="41.95" height="21.10" fill="#8eff00"/><rect x="703.62" y="402.75" width="41.95" height="21.10" fill="#8eff00"/><rect x="744.58" y="402.75" width="41.95" height="21.10" fill="#8eff00"/><rect x="785.53" y="402.75" width="41.95" height="21.10" fill="#9eff00"/><rect x="826.48" y="402.75" width="41.95" height="21.10" fill="#bfff00"/><rect x="867.43" y="402.75" width="31.71" height="21.10" fill="#e0ff00"/><rect x="898.14" y="402.75" width="21.47" height="21.10" fill="#f2ff00"/><rect x="918.61" y="402.75" width="21.48" height="21.10" fill="#ffff00"/><rect x="939.09" y="402.75" width="21.47" height="21.10" fill="#fff900"/><rect x="959.56" y="402.75" width="21.48" height="21.10" fill="#ffd800"/><rect x="980.04" y="402.75" width="20.48" height="21.10" fill="#ff9900"/>
<rect x="662.68" y="422.85" width="41.95" height="10.65" fill="#a8ff00"/><rect x="703.62" y="422.85" width="41.95" height="10.65" fill="#a8ff00"/><rect x="744.58" y="422.85" width="41.95" height="10.65" fill="#a8ff00"/><rect x="785.53" y="422.85" width="41.95" height="10.65" fill="#b7ff00"/><rect x="826.48" y="422.85" width="41.95" height="10.65" fill="#dbff00"/><rect x="867.43" y="422.85" width="31.71" height="10.65" fill="#f4ff00"/><rect x="898.14" y="422.85" width="21.47" height="10.65" fill="#fff200"/><rect x="918.61" y="422.85" width="21.48" height="10.65" fill="#ffd300"/><rect x="939.09" y="422.85" width="21.47" height="10.65" fill="#ffc600"/><rect x="959.56" y="422.85" width="21.48" height="10.65" fill="#ffb200"/><rect x="980.04" y="422.85" width="20.48" height="10.65" fill="#ff9900"/>
</g>
<text class="title" transform="translate(825.05 289.70) scale(1.100 1)" text-anchor="middle">ocean</text>
<text class="lab" x="634.60" y="321.90" text-anchor="end">0.3</text>
<text class="lab" x="634.60" y="362.10" text-anchor="end">0.2</text>
<text class="lab" x="634.60" y="402.30" text-anchor="end">0.1</text>
<text class="lab" x="634.60" y="432.90" text-anchor="end">0.0</text>
<text class="lab" x="641.50" y="465.40" text-anchor="middle">0</text>
<text class="lab" x="723.40" y="465.40" text-anchor="middle">20</text>
<text class="lab" x="805.30" y="465.40" text-anchor="middle">40</text>
<text class="lab" x="887.20" y="465.40" text-anchor="middle">60</text>
<text class="lab" x="969.10" y="465.40" text-anchor="middle">80</text>
<text class="axl" x="825.05" y="493.90" text-anchor="middle">SZA</text>
<text class="axl aod" transform="translate(579.90 368.95) rotate(-90)" text-anchor="middle">AOD</text>
</g>
<g class="panel">
<rect class="frame" x="96.20" y="562.40" width="368.70" height="130.50"/>
<path class="tick" d="M96.20 688.88h3.70M464.90 688.88h-3.70M96.20 684.86h3.70M464.90 684.86h-3.70M96.20 680.84h3.70M464.90 680.84h-3.70M96.20 676.82h3.70M464.90 676.82h-3.70M96.20 672.80h3.70M464.90 672.80h-3.70M96.20 668.78h3.70M464.90 668.78h-3.70M96.20 664.76h3.70M464.90 664.76h-3.70M96.20 660.74h3.70M464.90 660.74h-3.70M96.20 656.72h3.70M464.90 656.72h-3.70M96.20 652.70h7.30M464.90 652.70h-7.30M96.20 648.68h3.70M464.90 648.68h-3.70M96.20 644.66h3.70M464.90 644.66h-3.70M96.20 640.64h3.70M464.90 640.64h-3.70M96.20 636.62h3.70M464.90 636.62h-3.70M96.20 632.60h3.70M464.90 632.60h-3.70M96.20 628.58h3.70M464.90 628.58h-3.70M96.20 624.56h3.70M464.90 624.56h-3.70M96.20 620.54h3.70M464.90 620.54h-3.70M96.20 616.52h3.70M464.90 616.52h-3.70M96.20 612.50h7.30M464.90 612.50h-7.30M96.20 608.48h3.70M464.90 608.48h-3.70M96.20 604.46h3.70M464.90 604.46h-3.70M96.20 600.44h3.70M464.90 600.44h-3.70M96.20 596.42h3.70M464.90 596.42h-3.70M96.20 592.40h3.70M464.90 592.40h-3.70M96.20 588.38h3.70M464.90 588.38h-3.70M96.20 584.36h3.70M464.90 584.36h-3.70M96.20 580.34h3.70M464.90 580.34h-3.70M96.20 576.32h3.70M464.90 576.32h-3.70M96.20 572.30h7.30M464.90 572.30h-7.30M96.20 568.28h3.70M464.90 568.28h-3.70M96.20 564.26h3.70M464.90 564.26h-3.70"/>
<g class="heat">
<rect x="116.67" y="562.80" width="41.95" height="20.55" fill="#00ff89"/><rect x="157.62" y="562.80" width="41.95" height="20.55" fill="#00ff84"/><rect x="198.57" y="562.80" width="41.95" height="20.55" fill="#00ff7a"/><rect x="239.52" y="562.80" width="41.95" height="20.55" fill="#00ff6d"/><rect x="280.47" y="562.80" width="41.95" height="20.55" fill="#00ff5e"/><rect x="321.43" y="562.80" width="31.71" height="20.55" fill="#00fd51"/><rect x="352.14" y="562.80" width="21.47" height="20.55" fill="#00fc44"/><rect x="372.61" y="562.80" width="21.48" height="20.55" fill="#00fa35"/><rect x="393.09" y="562.80" width="21.47" height="20.55" fill="#00f300"/><rect x="413.56" y="562.80" width="21.48" height="20.55" fill="#3ffb00"/><rect x="434.04" y="562.80" width="20.48" height="20.55" fill="#9eff00"/>
<rect x="116.67" y="582.35" width="41.95" height="21.10" fill="#00ff89"/><rect x="157.62" y="582.35" width="41.95" height="21.10" fill="#00ff84"/><rect x="198.57" y="582.35" width="41.95" height="21.10" fill="#00ff7a"/><rect x="239.52" y="582.35" width="41.95" height="21.10" fill="#00ff6d"/><rect x="280.47" y="582.35" width="41.95" height="21.10" fill="#00ff5e"/><rect x="321.43" y="582.35" width="31.71" height="21.10" fill="#00fd51"/><rect x="352.14" y="582.35" width="21.47" height="21.10" fill="#00fc44"/><rect x="372.61" y="582.35" width="21.48" height="21.10" fill="#00fa35"/><rect x="393.09" y="582.35" width="21.47" height="21.10" fill="#00f300"/><rect x="413.56" y="582.35" width="21.48" height="21.10" fill="#3ffb00"/><rect x="434.04" y="582.35" width="20.48" height="21.10" fill="#adff00"/>
<rect x="116.67" y="602.45" width="41.95" height="21.10" fill="#00ff89"/><rect x="157.62" y="602.45" width="41.95" height="21.10" fill="#00ff84"/><rect x="198.57" y="602.45" width="41.95" height="21.10" fill="#00ff7a"/><rect x="239.52" y="602.45" width="41.95" height="21.10" fill="#00ff6d"/><rect x="280.47" y="602.45" width="41.95" height="21.10" fill="#00ff5e"/><rect x="321.43" y="602.45" width="31.71" height="21.10" fill="#00fd51"/><rect x="352.14" y="602.45" width="21.47" height="21.10" fill="#00fc44"/><rect x="372.61" y="602.45" width="21.48" height="21.10" fill="#00fa35"/><rect x="393.09" y="602.45" width="21.47" height="21.10" fill="#00f300"/><rect x="413.56" y="602.45" width="21.48" height="21.10" fill="#3ffb00"/><rect x="434.04" y="602.45" width="20.48" height="21.10" fill="#bfff00"/>
<rect x="116.67" y="622.55" width="41.95" height="21.10" fill="#00ff89"/><rect x="157.62" y="622.55" width="41.95" height="21.10" fill="#00ff84"/><rect x="198.57" y="622.55" width="41.95" height="21.10" fill="#00ff7a"/><rect x="239.52" y="622.55" width="41.95" height="21.10" fill="#00ff6d"/><rect x="280.47" y="622.55" width="41.95" height="21.10" fill="#00ff5e"/><rect x="321.43" y="622.55" width="31.71" height="21.10" fill="#00fd4f"/><rect x="352.14" y="622.55" width="21.47" height="21.10" fill="#00fb3f"/><rect x="372.61" y="622.55" width="21.48" height="21.10" fill="#00f930"/><rect x="393.09" y="622.55" width="21.47" height="21.10" fill="#00f300"/><rect x="413.56" y="622.55" width="21.48" height="21.10" fill="#44fc00"/><rect x="434.04" y="622.55" width="20.48" height="21.10" fill="#d1ff00"/>
<rect x="116.67" y="642.65" width="41.95" height="21.10" fill="#00ff89"/><rect x="157.62" y="642.65" width="41.95" height="21.10" fill="#00ff84"/><rect x="198.57" y="642.65" width="41.95" height="21.10" fill="#00ff7a"/><rect x="239.52" y="642.65" width="41.95" height="21.10" fill="#00ff6d"/><rect x="280.47" y="642.65" width="41.95" height="21.10" fill="#00ff5e"/><rect x="321.43" y="642.65" width="31.71" height="21.10" fill="#00fc49"/><rect x="352.14" y="642.65" width="21.47" height="21.10" fill="#00fa38"/><rect x="372.61" y="642.65" width="21.48" height="21.10" fill="#00f826"/><rect x="393.09" y="642.65" width="21.47" height="21.10" fill="#00f300"/><rect x="413.56" y="642.65" width="21.48" height="21.10" fill="#47fc00"/><rect x="434.04" y="642.65" width="20.48" height="21.10" fill="#e0ff00"/>
<rect x="116.67" y="662.75" width="41.95" height="21.10" fill="#00ff89"/><rect x="157.62" y="662.75" width="41.95" height="21.10" fill="#00ff84"/><rect x="198.57" y="662.75" width="41.95" height="21.10" fill="#00ff7a"/><rect x="239.52" y="662.75" width="41.95" height="21.10" fill="#00ff6d"/><rect x="280.47" y="662.75" width="41.95" height="21.10" fill="#00ff5b"/><rect x="321.43" y="662.75" width="31.71" height="21.10" fill="#00fb42"/><rect x="352.14" y="662.75" width="21.47" height="21.10" fill="#00f92d"/><rect x="372.61" y="662.75" width="21.48" height="21.10" fill="#00f619"/><rect x="393.09" y="662.75" width="21.47" height="21.10" fill="#05f300"/><rect x="413.56" y="662.75" width="21.48" height="21.10" fill="#4cfd00"/><rect x="434.04" y="662.75" width="20.48" height="21.10" fill="#f2ff00"/>
<rect x="116.67" y="682.85" width="41.95" height="10.65" fill="#00ff89"/><rect x="157.62" y="682.85" width="41.95" height="10.65" fill="#00ff84"/><rect x="198.57" y="682.85" width="41.95" height="10.65" fill="#00ff7a"/><rect x="239.52" y="682.85" width="41.95" height="10.65" fill="#00ff6b"/><rect x="280.47" y="682.85" width="41.95" height="10.65" fill="#00fe56"/><rect x="321.43" y="682.85" width="31.71" height="10.65" fill="#00fa3a"/><rect x="352.14" y="682.85" width="21.47" height="10.65" fill="#00f826"/><rect x="372.61" y="682.85" width="21.48" height="10.65" fill="#00f511"/><rect x="393.09" y="682.85" width="21.47" height="10.65" fill="#26f800"/><rect x="413.56" y="682.85" width="21.48" height="10.65" fill="#4cfd00"/><rect x="434.04" y="682.85" width="20.48" height="10.65" fill="#e0ff00"/>
</g>
<text class="title" transform="translate(279.05 549.70) scale(1.100 1)" text-anchor="middle">snow</text>
<text class="lab" x="88.60" y="581.90" text-anchor="end">0.3</text>
<text class="lab" x="88.60" y="622.10" text-anchor="end">0.2</text>
<text class="lab" x="88.60" y="662.30" text-anchor="end">0.1</text>
<text class="lab" x="88.60" y="692.90" text-anchor="end">0.0</text>
<text class="lab" x="95.50" y="725.40" text-anchor="middle">0</text>
<text class="lab" x="177.40" y="725.40" text-anchor="middle">20</text>
<text class="lab" x="259.30" y="725.40" text-anchor="middle">40</text>
<text class="lab" x="341.20" y="725.40" text-anchor="middle">60</text>
<text class="lab" x="423.10" y="725.40" text-anchor="middle">80</text>
<text class="axl" x="279.05" y="753.90" text-anchor="middle">SZA</text>
<text class="axl aod" transform="translate(33.90 628.95) rotate(-90)" text-anchor="middle">AOD</text>
</g>
<g class="cb">
<rect x="702" y="584" width="241" height="11.5" fill="url(#cbg)"/>
<text class="cbt" x="732" y="577.2" style="font-size:22px;letter-spacing:0.85px">X<tspan dy="4" style="font-size:8.5px;font-weight:bold;letter-spacing:0">CO2</tspan><tspan dy="-4"> Error (ppm)</tspan></text>
<text class="lab" x="706" y="631.3" text-anchor="middle">0.1</text>
<text class="lab" x="828" y="631.3" text-anchor="middle">1.0</text>
<text class="lab" x="942.3" y="631.3" text-anchor="middle">10.0</text>
</g>
</g>
</svg>
</body></html>
